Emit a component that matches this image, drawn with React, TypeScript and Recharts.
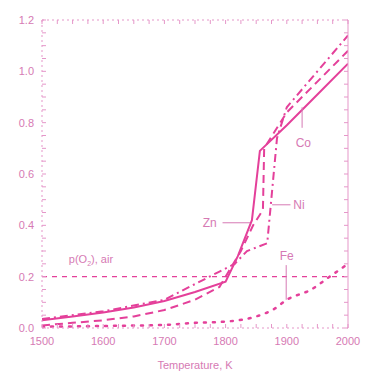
import React from 'react';
import {
  LineChart,
  Line,
  XAxis,
  YAxis,
  ReferenceLine,
  ReferenceDot,
  Label,
} from 'recharts';

// temperatures (K) and fractions, one pair of arrays per metal
const coTemps = [1500, 1550, 1600, 1650, 1700, 1750, 1800, 1820, 1843, 1856, 1900, 1950, 2000];
const coValues = [0.03, 0.045, 0.06, 0.08, 0.105, 0.14, 0.18, 0.28, 0.42, 0.69, 0.79, 0.91, 1.03];

const znTemps = [1500, 1550, 1600, 1650, 1700, 1750, 1790, 1805, 1825, 1845, 1861, 1863, 1900, 1950, 2000];
const znValues = [0.01, 0.02, 0.03, 0.045, 0.07, 0.11, 0.16, 0.22, 0.3, 0.4, 0.46, 0.7, 0.84, 0.96, 1.08];

const niTemps = [1500, 1600, 1700, 1790, 1815, 1835, 1868, 1884, 1900, 1950, 2000];
const niValues = [0.035, 0.065, 0.11, 0.22, 0.25, 0.3, 0.33, 0.74, 0.86, 1.0, 1.14];

const feTemps = [1500, 1600, 1700, 1750, 1800, 1850, 1880, 1900, 1940, 1970, 2000];
const feValues = [0.005, 0.008, 0.012, 0.02, 0.025, 0.045, 0.075, 0.11, 0.15, 0.2, 0.25];

const xTicks = [1500, 1600, 1700, 1800, 1900, 2000];
const xMinorTicks = [1500, 1525, 1550, 1575, 1600, 1625, 1650, 1675, 1700, 1725, 1750, 1775, 1800, 1825, 1850, 1875, 1900, 1925, 1950, 1975, 2000];
const yTicks = [0, 0.2, 0.4, 0.6, 0.8, 1.0, 1.2];
const yMinorTicks = [0, 0.05, 0.1, 0.15, 0.2, 0.25, 0.3, 0.35, 0.4, 0.45, 0.5, 0.55, 0.6, 0.65, 0.7, 0.75, 0.8, 0.85, 0.9, 0.95, 1.0, 1.05, 1.1, 1.15, 1.2];
const airLevel = 0.2;

const toPoints = (temps: number[], values: number[]) =>
  temps.map((t, i) => ({ t, v: values[i] }));

const coData = toPoints(coTemps, coValues);
const znData = toPoints(znTemps, znValues);
const niData = toPoints(niTemps, niValues);
const feData = toPoints(feTemps, feValues);

const LINE = '#e4409a';
const TEXT = '#d67ab4';
const AXIS = '#e597c9';
const FONT = '"Liberation Sans", Arial, sans-serif';

const blank = () => '';
const hiddenTick = { fontSize: 1, fill: 'none' };

const note = (value: string) => ({
  value,
  position: 'center' as const,
  fill: TEXT,
  fontSize: 12,
  fontFamily: FONT,
});

export default function App() {
  return (
    <div style={{ position: 'absolute', left: 0, top: 0, background: '#fff' }}>
      <LineChart width={367} height={380} margin={{ top: 20, right: 19, bottom: 0, left: 0 }}>
        <XAxis
          xAxisId="x"
          type="number"
          dataKey="t"
          domain={[1500, 2000]}
          ticks={xTicks}
          allowDataOverflow
          height={52}
          tickLine={false}
          axisLine={{ stroke: AXIS, strokeDasharray: '2 3' }}
          tick={{ fill: TEXT, fontSize: 11, fontFamily: FONT }}
          tickMargin={3}
        >
          <Label value="Temperature, K" position="insideBottom" offset={11} fill={TEXT} fontSize={11} fontFamily={FONT} />
        </XAxis>
        <XAxis
          xAxisId="top"
          orientation="top"
          type="number"
          dataKey="t"
          domain={[1500, 2000]}
          allowDataOverflow
          ticks={xMinorTicks}
          interval={0}
          mirror
          stroke={AXIS}
          tick={hiddenTick}
          tickFormatter={blank}
          tickSize={4}
          axisLine={{ stroke: AXIS, strokeDasharray: '2 3' }}
        />
        <XAxis
          xAxisId="bottomMinor"
          type="number"
          dataKey="t"
          domain={[1500, 2000]}
          allowDataOverflow
          ticks={xMinorTicks}
          interval={0}
          mirror
          stroke={AXIS}
          tick={hiddenTick}
          tickFormatter={blank}
          tickSize={4}
          axisLine={false}
        />
        <YAxis
          yAxisId="y"
          type="number"
          domain={[0, 1.2]}
          ticks={yTicks}
          allowDataOverflow
          width={42}
          tickLine={false}
          axisLine={{ stroke: AXIS, strokeDasharray: '2 3' }}
          tick={{ fill: TEXT, fontSize: 11, fontFamily: FONT }}
          tickFormatter={(v: number) => v.toFixed(1)}
          tickMargin={2}
        />
        <YAxis
          yAxisId="leftMinor"
          type="number"
          domain={[0, 1.2]}
          allowDataOverflow
          ticks={yMinorTicks}
          interval={0}
          mirror
          stroke={AXIS}
          tick={hiddenTick}
          tickFormatter={blank}
          tickSize={4}
          axisLine={false}
        />
        <YAxis
          yAxisId="right"
          orientation="right"
          type="number"
          domain={[0, 1.2]}
          allowDataOverflow
          ticks={yMinorTicks}
          interval={0}
          mirror
          stroke={AXIS}
          tick={hiddenTick}
          tickFormatter={blank}
          tickSize={4}
          axisLine={{ stroke: AXIS }}
        />

        {/* invisible series so that the frame axes get their ticks */}
        <Line xAxisId="top" yAxisId="leftMinor" data={coData} dataKey="v" stroke="none" dot={false} activeDot={false} isAnimationActive={false} />
        <Line xAxisId="bottomMinor" yAxisId="right" data={coData} dataKey="v" stroke="none" dot={false} activeDot={false} isAnimationActive={false} />

        <ReferenceLine
          xAxisId="x"
          yAxisId="y"
          y={airLevel}
          stroke={LINE}
          strokeWidth={1.3}
          strokeDasharray="5 5"
        />

        <Line xAxisId="x" yAxisId="y" data={feData} dataKey="v" type="monotone" stroke={LINE} strokeWidth={2.5} strokeDasharray="2 7" strokeLinecap="round" dot={false} isAnimationActive={false} />
        <Line xAxisId="x" yAxisId="y" data={niData} dataKey="v" type="linear" stroke={LINE} strokeWidth={2} strokeDasharray="8 4 2 4" dot={false} isAnimationActive={false} />
        <Line xAxisId="x" yAxisId="y" data={znData} dataKey="v" type="linear" stroke={LINE} strokeWidth={2} strokeDasharray="8 5" dot={false} isAnimationActive={false} />
        <Line xAxisId="x" yAxisId="y" data={coData} dataKey="v" type="linear" stroke={LINE} strokeWidth={2} dot={false} isAnimationActive={false} />

        {/* pointers from the labels to the curves */}
        <ReferenceLine xAxisId="x" yAxisId="y" segment={[{ x: 1925, y: 0.86 }, { x: 1925, y: 0.78 }]} stroke={TEXT} strokeWidth={1} />
        <ReferenceLine xAxisId="x" yAxisId="y" segment={[{ x: 1906, y: 0.48 }, { x: 1876, y: 0.48 }]} stroke={TEXT} strokeWidth={1} />
        <ReferenceLine xAxisId="x" yAxisId="y" segment={[{ x: 1795, y: 0.41 }, { x: 1840, y: 0.41 }]} stroke={TEXT} strokeWidth={1} />
        <ReferenceLine xAxisId="x" yAxisId="y" segment={[{ x: 1899, y: 0.245 }, { x: 1899, y: 0.11 }]} stroke={TEXT} strokeWidth={1} />

        <ReferenceDot xAxisId="x" yAxisId="y" x={1927} y={0.72} r={0} fill="none" stroke="none" label={note('Co')} />
        <ReferenceDot xAxisId="x" yAxisId="y" x={1920} y={0.48} r={0} fill="none" stroke="none" label={note('Ni')} />
        <ReferenceDot xAxisId="x" yAxisId="y" x={1774} y={0.41} r={0} fill="none" stroke="none" label={note('Zn')} />
        <ReferenceDot xAxisId="x" yAxisId="y" x={1900} y={0.28} r={0} fill="none" stroke="none" label={note('Fe')} />
        <ReferenceDot
          xAxisId="x"
          yAxisId="y"
          x={1580}
          y={0.27}
          r={0}
          fill="none"
          stroke="none"
          label={(props: any) => {
            const vb = props.viewBox || {};
            const cx = (vb.x ?? 0) + (vb.width ?? 0) / 2;
            const cy = (vb.y ?? 0) + (vb.height ?? 0) / 2;
            return (
              <text x={cx} y={cy} dy={4} textAnchor="middle" fill={TEXT} fontSize={11} fontFamily={FONT}>
                p(O<tspan fontSize={7} dy={3}>2</tspan><tspan dy={-3}>), air</tspan>
              </text>
            );
          }}
        />
      </LineChart>
    </div>
  );
}
